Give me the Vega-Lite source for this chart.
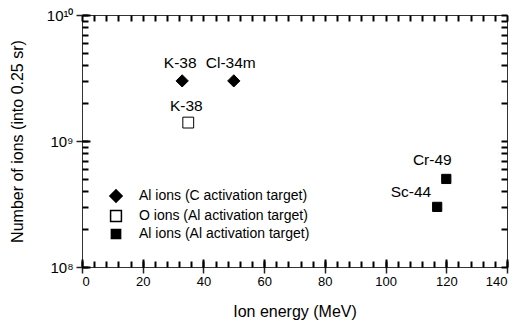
{
  "$schema": "https://vega.github.io/schema/vega-lite/v6.json",
  "width": 425,
  "height": 252,
  "autosize": "none",
  "padding": {"left": 82, "top": 15, "right": 20, "bottom": 54},
  "background": "white",
  "config": {
    "font": "Liberation Sans",
    "view": {"stroke": "#333", "strokeWidth": 1},
    "axis": {"grid": false, "domain": false, "tickColor": "#222", "tickWidth": 1.5, "labelColor": "#000", "titleColor": "#000", "titleFontWeight": "normal", "labelFont": "Liberation Sans", "titleFont": "Liberation Sans"}
  },
  "data": {"values": [
    {"energy": 33, "ions": 3000000000, "series": "Al ions (C activation target)", "label": "K-38"},
    {"energy": 50, "ions": 3000000000, "series": "Al ions (C activation target)", "label": "Cl-34m"},
    {"energy": 35, "ions": 1400000000, "series": "O ions (Al activation target)", "label": "K-38"},
    {"energy": 120, "ions": 500000000, "series": "Al ions (Al activation target)", "label": "Cr-49"},
    {"energy": 117, "ions": 300000000, "series": "Al ions (Al activation target)", "label": "Sc-44"}
  ]},
  "layer": [
    {
      "mark": {"type": "point", "filled": true, "strokeWidth": 1, "opacity": 1},
      "encoding": {
        "x": {"field": "energy", "type": "quantitative",
          "scale": {"domain": [0, 140], "nice": false, "zero": false},
          "axis": {"orient": "bottom", "values": [0, 20, 40, 60, 80, 100, 120, 140], "tickSize": 6, "labelPadding": 2, "labelFontSize": 13, "title": "Ion energy (MeV)", "titleFontSize": 16, "titlePadding": 15}},
        "y": {"field": "ions", "type": "quantitative",
          "scale": {"type": "log", "domain": [100000000, 10000000000], "nice": false},
          "axis": {"orient": "left", "values": [100000000, 1000000000, 10000000000], "tickSize": 6, "labelPadding": 3, "labelFontSize": 15,
            "labelExpr": "datum.value < 500000000 ? '10⁸' : datum.value < 5000000000 ? '10⁹' : '10¹⁰'",
            "title": "Number of ions (into 0.25 sr)", "titleFontSize": 16, "titlePadding": 21}},
        "shape": {"field": "series", "type": "nominal", "title": null,
          "scale": {"domain": ["Al ions (C activation target)", "O ions (Al activation target)", "Al ions (Al activation target)"], "range": ["diamond", "square", "square"]},
          "legend": {"orient": "none", "legendX": 27, "legendY": 174, "labelFontSize": 14, "labelLimit": 300, "labelOffset": 16, "rowPadding": 1}},
        "fill": {"field": "series", "type": "nominal", "title": null,
          "scale": {"domain": ["Al ions (C activation target)", "O ions (Al activation target)", "Al ions (Al activation target)"], "range": ["#000", "#fff", "#000"]},
          "legend": {"orient": "none", "legendX": 27, "legendY": 174, "labelFontSize": 14, "labelLimit": 300, "labelOffset": 16, "rowPadding": 1}},
        "stroke": {"field": "series", "type": "nominal", "title": null,
          "scale": {"domain": ["Al ions (C activation target)", "O ions (Al activation target)", "Al ions (Al activation target)"], "range": ["#000", "#000", "#000"]},
          "legend": {"orient": "none", "legendX": 27, "legendY": 174, "labelFontSize": 14, "labelLimit": 300, "labelOffset": 16, "rowPadding": 1}},
        "size": {"field": "series", "type": "nominal", "title": null,
          "scale": {"domain": ["Al ions (C activation target)", "O ions (Al activation target)", "Al ions (Al activation target)"], "range": [150, 85, 100]},
          "legend": {"orient": "none", "legendX": 27, "legendY": 174, "labelFontSize": 14, "labelLimit": 300, "labelOffset": 16, "rowPadding": 1}}
      }
    },
    {
      "mark": {"type": "point", "opacity": 0},
      "encoding": {
        "x": {"field": "energy", "type": "quantitative",
          "axis": {"orient": "top", "offset": -252, "values": [0, 4, 8, 12, 16, 20, 24, 28, 32, 36, 40, 44, 48, 52, 56, 60, 64, 68, 72, 76, 80, 84, 88, 92, 96, 100, 104, 108, 112, 116, 120, 124, 128, 132, 136, 140],
            "labels": false, "title": "", "tickSize": 6, "tickColor": "#000", "tickWidth": 2}},
        "y": {"field": "ions", "type": "quantitative",
          "axis": {"orient": "right", "offset": -425, "values": [100000000, 200000000, 300000000, 400000000, 500000000, 600000000, 700000000, 800000000, 900000000, 1000000000, 2000000000, 3000000000, 4000000000, 5000000000, 6000000000, 7000000000, 8000000000, 9000000000, 10000000000],
            "labels": false, "title": "", "tickSize": 6, "tickColor": "#000", "tickWidth": 2}}
      }
    },
    {
      "mark": {"type": "point", "opacity": 0},
      "encoding": {
        "x": {"field": "energy", "type": "quantitative",
          "axis": {"orient": "bottom", "offset": -252, "values": [0, 4, 8, 12, 16, 20, 24, 28, 32, 36, 40, 44, 48, 52, 56, 60, 64, 68, 72, 76, 80, 84, 88, 92, 96, 100, 104, 108, 112, 116, 120, 124, 128, 132, 136, 140],
            "labels": false, "title": "", "tickSize": 6, "tickColor": "#000", "tickWidth": 2}},
        "y": {"field": "ions", "type": "quantitative",
          "axis": {"orient": "left", "offset": -425, "values": [100000000, 200000000, 300000000, 400000000, 500000000, 600000000, 700000000, 800000000, 900000000, 1000000000, 2000000000, 3000000000, 4000000000, 5000000000, 6000000000, 7000000000, 8000000000, 9000000000, 10000000000],
            "labels": false, "title": "", "tickSize": 6, "tickColor": "#000", "tickWidth": 2}}
      }
    },
    {
      "mark": {"type": "point", "opacity": 0},
      "encoding": {
        "x": {"field": "energy", "type": "quantitative",
          "axis": {"orient": "top", "offset": -252, "values": [0, 20, 40, 60, 80, 100, 120, 140], "labels": false, "title": "", "tickSize": 8, "tickColor": "#000", "tickWidth": 2}},
        "y": {"field": "ions", "type": "quantitative",
          "axis": {"orient": "right", "offset": -425, "values": [100000000, 1000000000, 10000000000], "labels": false, "title": "", "tickSize": 8, "tickColor": "#000", "tickWidth": 2}}
      }
    },
    {
      "transform": [{"filter": "datum.energy === 33"}],
      "mark": {"type": "text", "fontSize": 15.5, "baseline": "middle", "align": "center", "dx": -2, "dy": -18, "font": "Liberation Sans"},
      "encoding": {
        "x": {"field": "energy", "type": "quantitative", "axis": null},
        "y": {"field": "ions", "type": "quantitative", "axis": null},
        "text": {"field": "label"}
      }
    },
    {
      "transform": [{"filter": "datum.energy === 50"}],
      "mark": {"type": "text", "fontSize": 15.5, "baseline": "middle", "align": "center", "dx": -3, "dy": -18, "font": "Liberation Sans"},
      "encoding": {
        "x": {"field": "energy", "type": "quantitative", "axis": null},
        "y": {"field": "ions", "type": "quantitative", "axis": null},
        "text": {"field": "label"}
      }
    },
    {
      "transform": [{"filter": "datum.energy === 35"}],
      "mark": {"type": "text", "fontSize": 15.5, "baseline": "middle", "align": "center", "dx": -2, "dy": -17, "font": "Liberation Sans"},
      "encoding": {
        "x": {"field": "energy", "type": "quantitative", "axis": null},
        "y": {"field": "ions", "type": "quantitative", "axis": null},
        "text": {"field": "label"}
      }
    },
    {
      "transform": [{"filter": "datum.energy === 120"}],
      "mark": {"type": "text", "fontSize": 15.5, "baseline": "middle", "align": "center", "dx": -14, "dy": -19, "font": "Liberation Sans"},
      "encoding": {
        "x": {"field": "energy", "type": "quantitative", "axis": null},
        "y": {"field": "ions", "type": "quantitative", "axis": null},
        "text": {"field": "label"}
      }
    },
    {
      "transform": [{"filter": "datum.energy === 117"}],
      "mark": {"type": "text", "fontSize": 15.5, "baseline": "middle", "align": "right", "dx": -6, "dy": -15, "font": "Liberation Sans"},
      "encoding": {
        "x": {"field": "energy", "type": "quantitative", "axis": null},
        "y": {"field": "ions", "type": "quantitative", "axis": null},
        "text": {"field": "label"}
      }
    }
  ],
  "resolve": {"axis": {"x": "independent", "y": "independent"}}
}
